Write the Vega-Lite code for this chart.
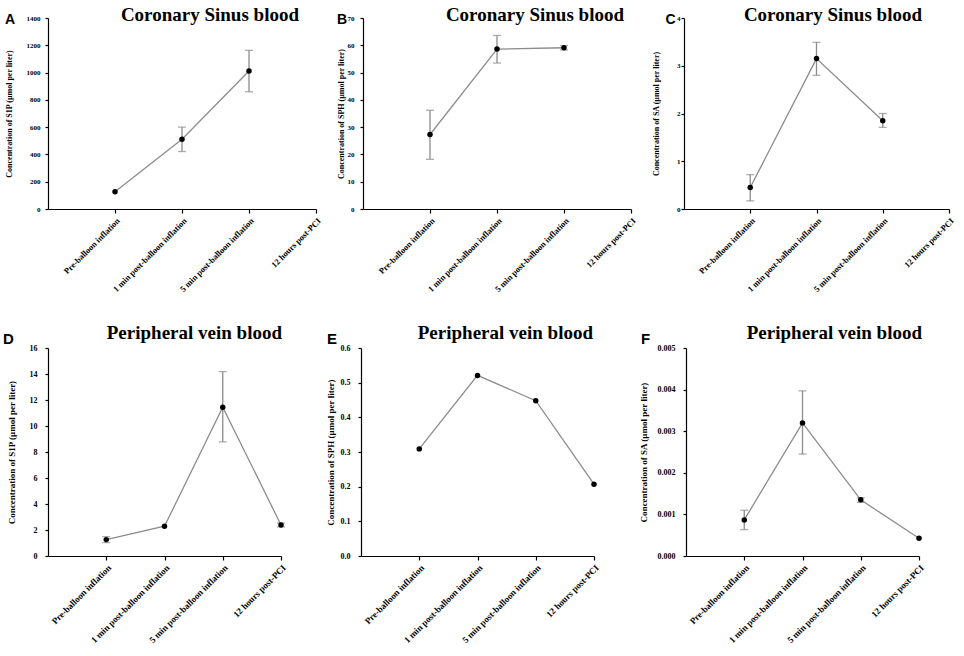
{
  "$schema": "https://vega.github.io/schema/vega-lite/v6.json",
  "padding": {"left": 3, "top": 6, "right": 0, "bottom": 0},
  "background": "white",
  "datasets": {
    "d": [
      {"panel": "A", "idx": 1, "value": 127, "lo": null, "hi": null},
      {"panel": "A", "idx": 2, "value": 511, "lo": 421, "hi": 600},
      {"panel": "A", "idx": 3, "value": 1011, "lo": 859, "hi": 1163},
      {"panel": "B", "idx": 1, "value": 27.3, "lo": 18.2, "hi": 36.2},
      {"panel": "B", "idx": 2, "value": 58.6, "lo": 53.5, "hi": 63.6},
      {"panel": "B", "idx": 3, "value": 59.1, "lo": 58.3, "hi": 59.9},
      {"panel": "C", "idx": 1, "value": 0.45, "lo": 0.17, "hi": 0.72},
      {"panel": "C", "idx": 2, "value": 3.15, "lo": 2.8, "hi": 3.49},
      {"panel": "C", "idx": 3, "value": 1.85, "lo": 1.71, "hi": 2.0},
      {"panel": "D", "idx": 1, "value": 1.26, "lo": 1.03, "hi": 1.49},
      {"panel": "D", "idx": 2, "value": 2.29, "lo": null, "hi": null},
      {"panel": "D", "idx": 3, "value": 11.45, "lo": 8.78, "hi": 14.18},
      {"panel": "D", "idx": 4, "value": 2.39, "lo": 2.24, "hi": 2.54},
      {"panel": "E", "idx": 1, "value": 0.309, "lo": null, "hi": null},
      {"panel": "E", "idx": 2, "value": 0.521, "lo": null, "hi": null},
      {"panel": "E", "idx": 3, "value": 0.448, "lo": null, "hi": null},
      {"panel": "E", "idx": 4, "value": 0.207, "lo": null, "hi": null},
      {"panel": "F", "idx": 1, "value": 0.000867, "lo": 0.000634, "hi": 0.0011},
      {"panel": "F", "idx": 2, "value": 0.0032, "lo": 0.00245, "hi": 0.00397},
      {"panel": "F", "idx": 3, "value": 0.00135, "lo": 0.00129, "hi": 0.0014},
      {"panel": "F", "idx": 4, "value": 0.000425, "lo": null, "hi": null}
    ]
  },
  "data": {"name": "d"},
  "config": {
    "view": {"stroke": null},
    "axis": {
      "grid": false,
      "domainColor": "#000000",
      "tickColor": "#000000",
      "labelColor": "#000000",
      "titleColor": "#000000",
      "labelFont": "Liberation Serif",
      "titleFont": "Liberation Serif",
      "labelFontWeight": "bold",
      "titleFontWeight": "bold",
      "tickSize": 3,
      "domainWidth": 1.2,
      "tickWidth": 1.2,
      "labelOverlap": false
    },
    "title": {"color": "#000000", "font": "Liberation Serif"}
  },
  "columns": 1,
  "align": "none",
  "spacing": 31,
  "concat": [
    {
      "spacing": 14,
      "hconcat": [
        {
          "title": {"text": "A", "anchor": "start", "font": "Liberation Sans", "fontSize": 14, "fontWeight": "bold", "offset": -21},
          "vconcat": [{
            "width": 268, "height": 191,
            "title": {"text": "Coronary Sinus blood", "anchor": "end", "frame": "group", "font": "Liberation Serif", "fontSize": 19, "fontWeight": "bold", "offset": -11, "dx": -17},
            "transform": [{"filter": "datum.panel === 'A'"}],
            "encoding": {
              "x": {"field": "idx", "type": "quantitative", "scale": {"domain": [0, 4], "nice": false, "zero": false},
                "axis": {"values": [1, 2, 3, 4], "title": null, "labelAngle": -45, "labelFontSize": 8.5, "labelPadding": 3, "tickSize": 4,
                  "labelExpr": "['', 'Pre-balloon inflation', '1 min post-balloon inflation', '5 min post-balloon inflation', '12 hours post-PCI'][datum.value]"}},
              "y": {"field": "value", "type": "quantitative", "scale": {"domain": [0, 1400], "nice": false},
                "title": "Concentration of S1P (µmol per liter)",
                "axis": {"values": [0, 200, 400, 600, 800, 1000, 1200, 1400], "format": "d", "labelFontSize": 7, "titleFontSize": 8, "titlePadding": 13, "labelPadding": 5}}
            },
            "layer": [
              {"mark": {"type": "line", "color": "#8c8c8c", "strokeWidth": 1.3}},
              {"transform": [{"filter": "datum.lo != null"}], "mark": {"type": "errorbar", "color": "#8c8c8c", "thickness": 1.3, "ticks": {"size": 8, "color": "#8c8c8c"}},
                "encoding": {"y": {"field": "lo", "type": "quantitative", "title": "Concentration of S1P (µmol per liter)"}, "y2": {"field": "hi"}}},
              {"mark": {"type": "point", "filled": true, "color": "#000000", "opacity": 1, "size": 30}}
            ]
          }]
        },
        {
          "title": {"text": "B", "anchor": "start", "font": "Liberation Sans", "fontSize": 14, "fontWeight": "bold", "offset": -21},
          "vconcat": [{
            "width": 268, "height": 191,
            "title": {"text": "Coronary Sinus blood", "anchor": "end", "frame": "group", "font": "Liberation Serif", "fontSize": 19, "fontWeight": "bold", "offset": -11, "dx": -7},
            "transform": [{"filter": "datum.panel === 'B'"}],
            "encoding": {
              "x": {"field": "idx", "type": "quantitative", "scale": {"domain": [0, 4], "nice": false, "zero": false},
                "axis": {"values": [1, 2, 3, 4], "title": null, "labelAngle": -45, "labelFontSize": 8.5, "labelPadding": 3, "tickSize": 4,
                  "labelExpr": "['', 'Pre-balloon inflation', '1 min post-balloon inflation', '5 min post-balloon inflation', '12 hours post-PCI'][datum.value]"}},
              "y": {"field": "value", "type": "quantitative", "scale": {"domain": [0, 70], "nice": false},
                "title": "Concentration of SPH (µmol per liter)",
                "axis": {"values": [0, 10, 20, 30, 40, 50, 60, 70], "labelFontSize": 7, "titleFontSize": 8, "titlePadding": 2, "labelPadding": 6}}
            },
            "layer": [
              {"mark": {"type": "line", "color": "#8c8c8c", "strokeWidth": 1.3}},
              {"transform": [{"filter": "datum.lo != null"}], "mark": {"type": "errorbar", "color": "#8c8c8c", "thickness": 1.3, "ticks": {"size": 8, "color": "#8c8c8c"}},
                "encoding": {"y": {"field": "lo", "type": "quantitative", "title": "Concentration of SPH (µmol per liter)"}, "y2": {"field": "hi"}}},
              {"mark": {"type": "point", "filled": true, "color": "#000000", "opacity": 1, "size": 30}}
            ]
          }]
        },
        {
          "title": {"text": "C", "anchor": "start", "font": "Liberation Sans", "fontSize": 14, "fontWeight": "bold", "offset": -21, "dx": 13},
          "vconcat": [{
            "width": 265, "height": 191,
            "title": {"text": "Coronary Sinus blood", "anchor": "end", "frame": "group", "font": "Liberation Serif", "fontSize": 19, "fontWeight": "bold", "offset": -11, "dx": -27},
            "transform": [{"filter": "datum.panel === 'C'"}],
            "encoding": {
              "x": {"field": "idx", "type": "quantitative", "scale": {"domain": [0, 4], "nice": false, "zero": false},
                "axis": {"values": [1, 2, 3, 4], "title": null, "labelAngle": -45, "labelFontSize": 8.5, "labelPadding": 3, "tickSize": 4,
                  "labelExpr": "['', 'Pre-balloon inflation', '1 min post-balloon inflation', '5 min post-balloon inflation', '12 hours post-PCI'][datum.value]"}},
              "y": {"field": "value", "type": "quantitative", "scale": {"domain": [0, 4], "nice": false},
                "title": "Concentration of SA (µmol per liter)",
                "axis": {"values": [0, 1, 2, 3, 4], "labelFontSize": 7, "titleFontSize": 8, "titlePadding": 16, "labelPadding": 1}}
            },
            "layer": [
              {"mark": {"type": "line", "color": "#8c8c8c", "strokeWidth": 1.3}},
              {"transform": [{"filter": "datum.lo != null"}], "mark": {"type": "errorbar", "color": "#8c8c8c", "thickness": 1.3, "ticks": {"size": 8, "color": "#8c8c8c"}},
                "encoding": {"y": {"field": "lo", "type": "quantitative", "title": "Concentration of SA (µmol per liter)"}, "y2": {"field": "hi"}}},
              {"mark": {"type": "point", "filled": true, "color": "#000000", "opacity": 1, "size": 30}}
            ]
          }]
        }
      ]
    },
    {
      "spacing": 38,
      "hconcat": [
        {
          "title": {"text": "D", "anchor": "start", "font": "Liberation Sans", "fontSize": 15, "fontWeight": "bold", "offset": -23, "dx": -4},
          "vconcat": [{
            "width": 233, "height": 208,
            "title": {"text": "Peripheral vein blood", "anchor": "end", "frame": "group", "font": "Liberation Serif", "fontSize": 19, "fontWeight": "bold", "offset": 1, "dx": 1},
            "transform": [{"filter": "datum.panel === 'D'"}],
            "encoding": {
              "x": {"field": "idx", "type": "quantitative", "scale": {"domain": [0, 4], "nice": false, "zero": false},
                "axis": {"values": [1, 2, 3, 4], "title": null, "labelAngle": -45, "labelFontSize": 9, "labelPadding": 3, "tickSize": 4,
                  "labelExpr": "['', 'Pre-balloon inflation', '1 min post-balloon inflation', '5 min post-balloon inflation', '12 hours post-PCI'][datum.value]"}},
              "y": {"field": "value", "type": "quantitative", "scale": {"domain": [0, 16], "nice": false},
                "title": "Concentration of S1P (µmol per liter)",
                "axis": {"values": [0, 2, 4, 6, 8, 10, 12, 14, 16], "labelFontSize": 8, "titleFontSize": 9, "titlePadding": 13, "labelPadding": 8}}
            },
            "layer": [
              {"mark": {"type": "line", "color": "#8c8c8c", "strokeWidth": 1.3}},
              {"transform": [{"filter": "datum.lo != null"}], "mark": {"type": "errorbar", "color": "#8c8c8c", "thickness": 1.3, "ticks": {"size": 8, "color": "#8c8c8c"}},
                "encoding": {"y": {"field": "lo", "type": "quantitative", "title": "Concentration of S1P (µmol per liter)"}, "y2": {"field": "hi"}}},
              {"mark": {"type": "point", "filled": true, "color": "#000000", "opacity": 1, "size": 30}}
            ]
          }]
        },
        {
          "title": {"text": "E", "anchor": "start", "font": "Liberation Sans", "fontSize": 15, "fontWeight": "bold", "offset": -23, "dx": 1},
          "vconcat": [{
            "width": 233, "height": 208,
            "title": {"text": "Peripheral vein blood", "anchor": "end", "frame": "group", "font": "Liberation Serif", "fontSize": 19, "fontWeight": "bold", "offset": 1, "dx": -1},
            "transform": [{"filter": "datum.panel === 'E'"}],
            "encoding": {
              "x": {"field": "idx", "type": "quantitative", "scale": {"domain": [0, 4], "nice": false, "zero": false},
                "axis": {"values": [1, 2, 3, 4], "title": null, "labelAngle": -45, "labelFontSize": 9, "labelPadding": 3, "tickSize": 4,
                  "labelExpr": "['', 'Pre-balloon inflation', '1 min post-balloon inflation', '5 min post-balloon inflation', '12 hours post-PCI'][datum.value]"}},
              "y": {"field": "value", "type": "quantitative", "scale": {"domain": [0, 0.6], "nice": false},
                "title": "Concentration of SPH (µmol per liter)",
                "axis": {"values": [0, 0.1, 0.2, 0.3, 0.4, 0.5, 0.6], "format": ".1f", "labelFontSize": 8, "titleFontSize": 9, "titlePadding": 5, "labelPadding": 8}}
            },
            "layer": [
              {"mark": {"type": "line", "color": "#8c8c8c", "strokeWidth": 1.3}},
              {"mark": {"type": "point", "filled": true, "color": "#000000", "opacity": 1, "size": 30}}
            ]
          }]
        },
        {
          "title": {"text": "F", "anchor": "start", "font": "Liberation Sans", "fontSize": 15, "fontWeight": "bold", "offset": -23, "dx": 2},
          "vconcat": [{
            "width": 233, "height": 208,
            "title": {"text": "Peripheral vein blood", "anchor": "end", "frame": "group", "font": "Liberation Serif", "fontSize": 19, "fontWeight": "bold", "offset": 1, "dx": 3},
            "transform": [{"filter": "datum.panel === 'F'"}],
            "encoding": {
              "x": {"field": "idx", "type": "quantitative", "scale": {"domain": [0, 4], "nice": false, "zero": false},
                "axis": {"values": [1, 2, 3, 4], "title": null, "labelAngle": -45, "labelFontSize": 9, "labelPadding": 3, "tickSize": 4,
                  "labelExpr": "['', 'Pre-balloon inflation', '1 min post-balloon inflation', '5 min post-balloon inflation', '12 hours post-PCI'][datum.value]"}},
              "y": {"field": "value", "type": "quantitative", "scale": {"domain": [0, 0.005], "nice": false},
                "title": "Concentration of SA (µmol per liter)",
                "axis": {"values": [0, 0.001, 0.002, 0.003, 0.004, 0.005], "format": ".3f", "labelFontSize": 8, "titleFontSize": 9, "titlePadding": 9, "labelPadding": 8}}
            },
            "layer": [
              {"mark": {"type": "line", "color": "#8c8c8c", "strokeWidth": 1.3}},
              {"transform": [{"filter": "datum.lo != null"}], "mark": {"type": "errorbar", "color": "#8c8c8c", "thickness": 1.3, "ticks": {"size": 8, "color": "#8c8c8c"}},
                "encoding": {"y": {"field": "lo", "type": "quantitative", "title": "Concentration of SA (µmol per liter)"}, "y2": {"field": "hi"}}},
              {"mark": {"type": "point", "filled": true, "color": "#000000", "opacity": 1, "size": 30}}
            ]
          }]
        }
      ]
    }
  ]
}
